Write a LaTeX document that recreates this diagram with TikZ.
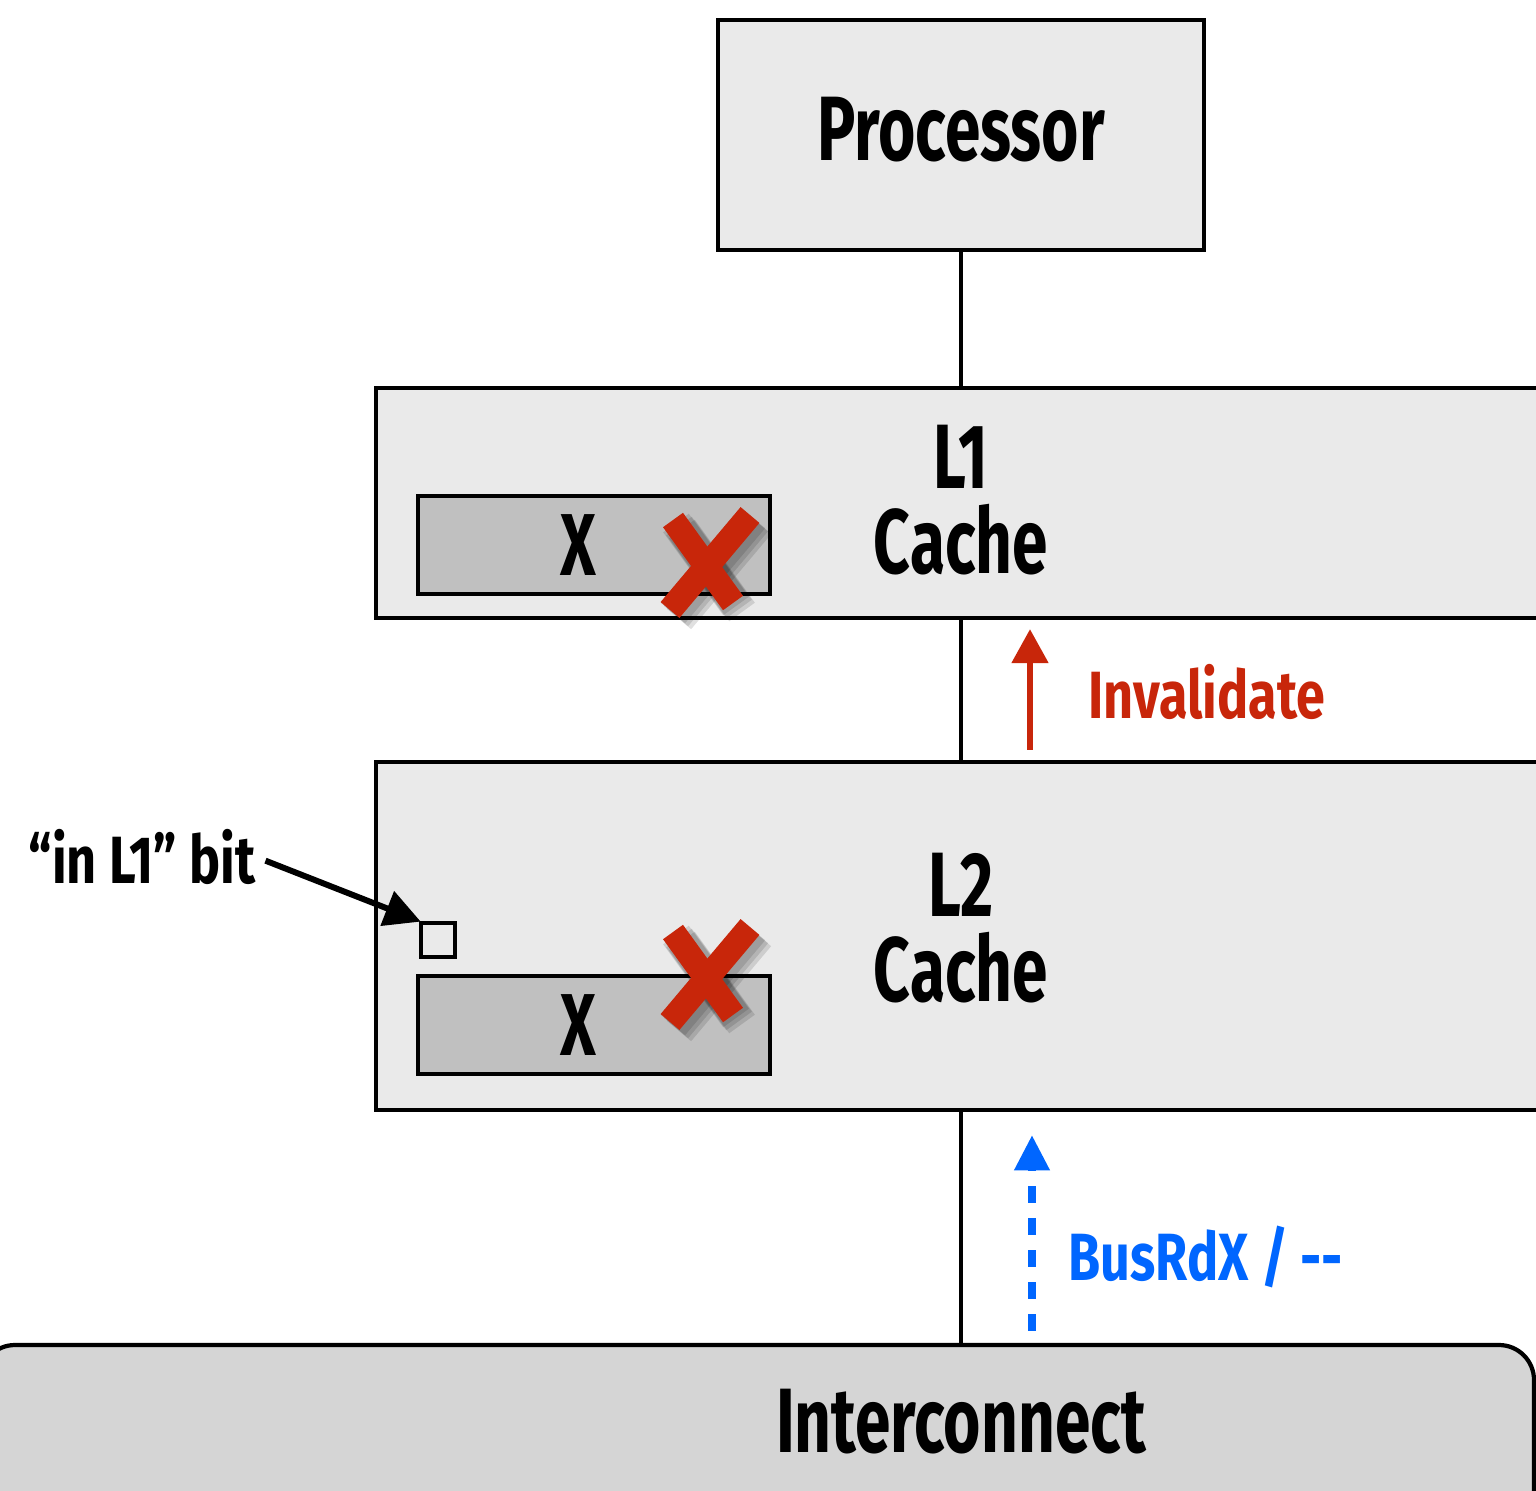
\documentclass[tikz,border=0pt]{standalone}
\usepackage{fontspec}
\setmainfont{Fira Sans}[FakeStretch=0.78]
\newfontfamily\condfont{Fira Sans}[FakeStretch=0.7]
\usetikzlibrary{arrows.meta, positioning, calc}
\definecolor{boxgray}{HTML}{EAEAEA}
\definecolor{linegray}{HTML}{C0C0C0}
\definecolor{netgray}{HTML}{D5D5D5}
\definecolor{invred}{HTML}{C8260A}
\definecolor{busblue}{HTML}{0066FF}
\tikzset{
    cachebox/.style={draw, line width=1.2pt, fill=boxgray, rectangle, inner sep=0pt},
    linebox/.style={draw, line width=1.2pt, fill=linegray, rectangle, inner sep=0pt,
        minimum width=3.52cm, minimum height=0.98cm},
    xtext/.style={font=\condfont\bfseries\fontsize{25}{26}\selectfont, inner sep=0pt},
    bigtext/.style={font=\condfont\bfseries\fontsize{26}{24}\selectfont, align=center},
    midtext/.style={font=\bfseries\fontsize{19}{22}\selectfont},
    wire/.style={line width=1.2pt},
    invarrow/.style={invred, line width=1.5pt, -{Triangle[width=0.36cm, length=0.34cm]}},
    busarrow/.style={busblue, line width=2pt, dash pattern=on 0.17cm off 0.15cm,
        -{Triangle[width=0.34cm, length=0.35cm]}},
    bitarrow/.style={line width=1.7pt, -{Triangle[width=0.36cm, length=0.36cm]}},
    crossbar/.style={invred, line width=7pt},
    crossshade/.style={black, opacity=0.12, line width=9pt}
}
\newcommand{\invcross}[1]{%
    \begin{scope}[shift={#1}]
        \foreach \d in {3,6,9}{
            \draw[crossshade] (-34+\d,-47+\d) -- (26+\d,36+\d);
            \draw[crossshade] (43+\d,-52+\d) -- (-37+\d,43+\d);
        }
        \draw[crossbar] (-34,-47) -- (26,36);
        \draw[crossbar] (43,-52) -- (-37,43);
    \end{scope}}

\begin{document}
\begin{tikzpicture}[x=0.01cm, y=-0.01cm]
    \useasboundingbox (0,0) rectangle (1536,1491);
    \clip (0,0) rectangle (1536,1491);
    % boxes
    \node[cachebox, minimum width=4.86cm, minimum height=2.30cm] (proc) at (961,135) {};
    \node[cachebox, minimum width=11.84cm, minimum height=2.30cm] (lone) at (968,503) {};
    \node[cachebox, minimum width=11.84cm, minimum height=3.48cm] (ltwo) at (968,936) {};
    \draw[line width=1.2pt, fill=netgray, rounded corners=0.35cm] (-20,1345) rectangle (1534,1540);
    \node[inner sep=0pt, minimum width=15.54cm, minimum height=1.95cm] (net) at (757,1442) {};
    % texts
    \node[bigtext] (proctext) at (961,130) {Processor};
    \node[bigtext] (lonetext) at (961,500) {L1\\Cache};
    \node[bigtext] (ltwotext) at (961,928) {L2\\Cache};
    \node[bigtext] (nettext) at (961,1422) {Interconnect};
    % lines holding X
    \node[linebox] (xone) at (594,545) {};
    \node[linebox] (xtwo) at (594,1025) {};
    \node[xtext] (xonetext) at (578,545) {X};
    \node[xtext] (xtwotext) at (578,1025) {X};
    \node[draw, line width=1.2pt, minimum size=0.34cm, inner sep=0pt] (bit) at (438,940) {};
    % wires
    \coordinate (mid) at (961,0);
    \draw[wire] (proc.south) -- (lone.north -| mid);
    \draw[wire] (lone.south -| mid) -- (ltwo.north -| mid);
    \draw[wire] (ltwo.south -| mid) -- (net.north -| mid);
    % messages
    \coordinate (inv) at (1030,0);
    \coordinate (bus) at (1032,0);
    \draw[invarrow, shorten <=0.1cm, shorten >=0.09cm] (ltwo.north -| inv) -- (lone.south -| inv);
    \node[midtext, text=invred, anchor=west, inner sep=0pt] (invtext) at (1088,692) {Invalidate};
    \draw[busarrow, shorten <=0.13cm, shorten >=0.23cm] (net.north -| bus) -- (ltwo.south -| bus);
    \node[midtext, text=busblue, anchor=west, inner sep=0pt] (bustext) at (1068,1257) {BusRdX / -{}-};
    % bit label
    \node[midtext, anchor=west, inner sep=0pt] (bittext) at (28,857) {“in L1” bit};
    \draw[bitarrow, shorten <=0.1cm, shorten >=-0.02cm] (bittext.east) -- (bit.north west);
    % invalidated lines
    \invcross{(707,567)}
    \invcross{(707,979)}
\end{tikzpicture}
\end{document}
